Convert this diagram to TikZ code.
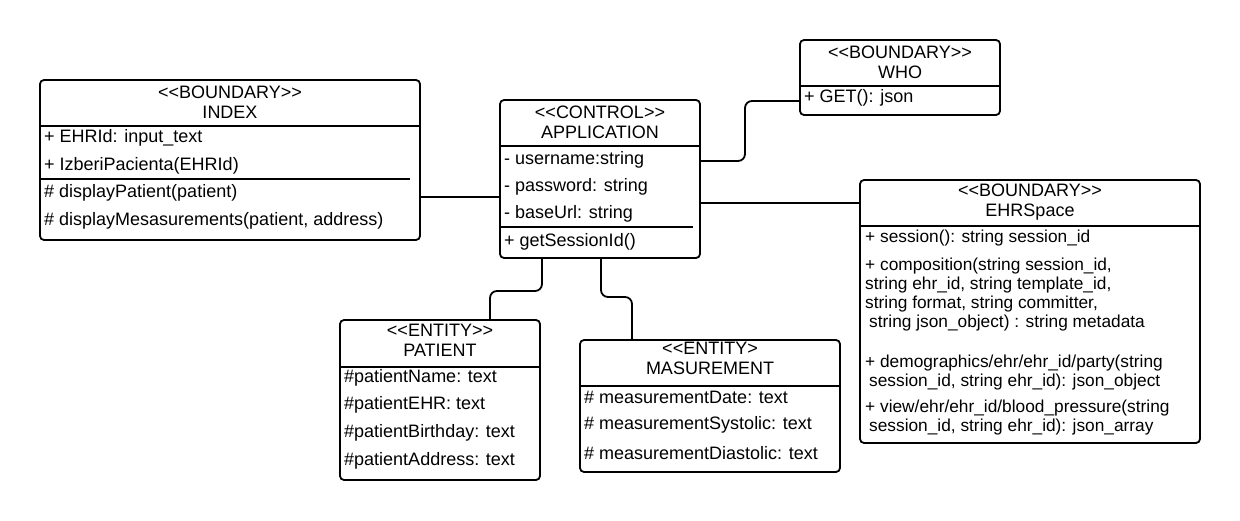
\documentclass[tikz,border=0pt]{standalone}
\usepackage{fontspec}
\setmainfont{Liberation Sans}
\newcommand{\stl}{<\kern0pt<}
\newcommand{\stg}{>\kern0pt>}
\begin{document}
\begin{tikzpicture}[x=1pt,y=-1pt,
  box/.style={draw, line width=1.8pt, rounded corners=4pt, inner sep=0pt},
  sepline/.style={line width=1.6pt},
  lbl/.style={anchor=west, inner sep=0pt, align=left, font=\fontsize{18}{19}\selectfont},
  ehrlbl/.style={lbl, font=\fontsize{17.3}{19}\selectfont},
  hdr/.style={anchor=center, inner sep=0pt, align=center, font=\fontsize{18}{20}\selectfont},
  wire/.style={line width=1.8pt, rounded corners=7pt}]
\useasboundingbox (0,0) rectangle (1240,521);
\fill[white] (0,0) rectangle (1240,521);

% boxes
\node[box, minimum width=380pt, minimum height=160pt] (index) at (230,160) {};
\node[box, minimum width=200pt, minimum height=158pt] (app) at (600,179) {};
\node[box, minimum width=200pt, minimum height=75pt] (who) at (900,77.5) {};
\node[box, minimum width=340pt, minimum height=263pt] (ehr) at (1030,311.5) {};
\node[box, minimum width=200pt, minimum height=160pt] (patient) at (440,400) {};
\node[box, minimum width=260pt, minimum height=132pt] (meas) at (710,406) {};

% dividers
\draw[sepline] (index.west |- 0,126) -- (index.east |- 0,126);
\draw[sepline] (index.west |- 0,179) -- (410,179);
\draw[sepline] (app.west |- 0,146) -- (app.east |- 0,146);
\draw[sepline] (app.west |- 0,227) -- (693,227);
\draw[sepline] (who.west |- 0,86) -- (who.east |- 0,86);
\draw[sepline] (ehr.west |- 0,226) -- (ehr.east |- 0,226);
\draw[sepline] (patient.west |- 0,367) -- (patient.east |- 0,367);
\draw[sepline] (meas.west |- 0,386) -- (meas.east |- 0,386);

% INDEX
\node[hdr] (indexh) at (230,102) {\stl BOUNDARY\stg\\INDEX};
\node[lbl] (index1) at (44,138) {+ EHRId: input\_text};
\node[lbl] (index2) at (44,166) {+ IzberiPacienta(EHRId)};
\node[lbl] (index3) at (44,193) {\# displayPatient(patient)};
\node[lbl] (index4) at (44,221) {\# displayMesasurements(patient, address)};

% APPLICATION
\node[hdr] (apph) at (600,122) {\stl CONTROL\stg\\APPLICATION};
\node[lbl] (app1) at (504,160) {- username:string};
\node[lbl] (app2) at (504,187) {- password: string};
\node[lbl] (app3) at (504,214) {- baseUrl: string};
\node[lbl] (app4) at (504,242) {+ getSessionId()};

% WHO
\node[hdr] (whoh) at (900,62) {\stl BOUNDARY\stg\\WHO};
\node[lbl] (who1) at (804,98) {+ GET(): json};

% EHRSpace
\node[hdr] (ehrh) at (1030,202) {\stl BOUNDARY\stg\\EHRSpace};
\node[ehrlbl] (ehr1) at (865,238) {+ session(): string session\_id};
\node[ehrlbl] (ehr2) at (865,295) {+ composition(string session\_id,\\string ehr\_id, string template\_id,\\string format, string committer,\\\hspace*{4pt}string json\_object) : string metadata};
\node[ehrlbl] (ehr3) at (865,372.5) {+ demographics/ehr/ehr\_id/party(string\\\hspace*{4pt}session\_id, string ehr\_id): json\_object};
\node[ehrlbl] (ehr4) at (865,418) {+ view/ehr/ehr\_id/blood\_pressure(string\\\hspace*{4pt}session\_id, string ehr\_id): json\_array};

% PATIENT
\node[hdr] (patienth) at (440,340) {\stl ENTITY\stg\\PATIENT};
\node[lbl] (patient1) at (344,378) {\#patientName: text};
\node[lbl] (patient2) at (344,405) {\#patientEHR: text};
\node[lbl] (patient3) at (344,433) {\#patientBirthday: text};
\node[lbl] (patient4) at (344,461) {\#patientAddress: text};

% MASUREMENT
\node[hdr] (meash) at (710,358) {\stl ENTITY>\\MASUREMENT};
\node[lbl] (meas1) at (584,397) {\# measurementDate: text};
\node[lbl] (meas2) at (584,425) {\# measurementSystolic: text};
\node[lbl] (meas3) at (584,453) {\# measurementDiastolic: text};

% connectors
\draw[wire] (index.east |- 0,197) -- (app.west |- 0,197);
\draw[wire] (app.east |- 0,161) -- (745,161) -- (745,101) -- (who.west |- 0,101);
\draw[wire] (app.east |- 0,203) -- (ehr.west |- 0,203);
\draw[wire] (app.south -| 542,0) -- (542,291) -- (490,291) -- (patient.north -| 490,0);
\draw[wire] (app.south -| 601,0) -- (601,297) -- (632,297) -- (meas.north -| 632,0);
\end{tikzpicture}
\end{document}
